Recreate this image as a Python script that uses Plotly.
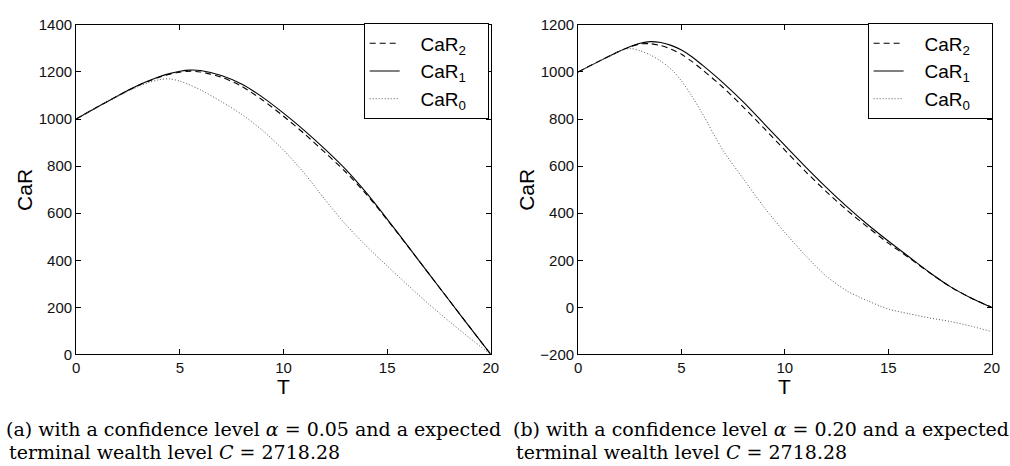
import plotly.graph_objects as go

# ---- data ----
T = [0, 1, 2, 2.5, 3, 3.5, 4, 4.5, 5, 5.5, 6, 7, 8, 9, 10, 11, 12, 13, 14, 15, 16, 17, 18, 19, 20]

# panel (a): alpha = 0.05
car2_a = [1000, 1050, 1098, 1121, 1143, 1161, 1178, 1190, 1199, 1203, 1200, 1178, 1138, 1080, 1012, 938, 858, 775, 680, 572, 459, 344, 229, 114, 0]
car1_a = [1000, 1050, 1098, 1122, 1144, 1163, 1180, 1193, 1203, 1208, 1206, 1185, 1148, 1092, 1025, 952, 872, 786, 686, 575, 460, 344, 229, 114, 0]
car0_a = [1000, 1050, 1097, 1118, 1138, 1155, 1167, 1171, 1161, 1144, 1124, 1074, 1019, 951, 868, 770, 658, 552, 460, 376, 294, 214, 140, 68, 0]

# panel (b): alpha = 0.20
car2_b = [1000, 1045, 1088, 1106, 1119, 1120, 1112, 1097, 1075, 1045, 1010, 935, 850, 760, 668, 577, 492, 413, 341, 273, 211, 147, 88, 40, 0]
car1_b = [1000, 1045, 1088, 1107, 1122, 1129, 1125, 1113, 1093, 1065, 1030, 955, 872, 780, 688, 597, 510, 428, 352, 282, 215, 148, 88, 40, 0]
car0_b = [1000, 1045, 1088, 1100, 1090, 1072, 1046, 1012, 962, 898, 825, 668, 545, 425, 318, 220, 133, 70, 28, -7, -27, -45, -60, -80, -103]

x_ticks = [0, 5, 10, 15, 20]
y_ticks_a = [0, 200, 400, 600, 800, 1000, 1200, 1400]
y_ticks_b = [-200, 0, 200, 400, 600, 800, 1000, 1200]

NB = "\u00a0\u00a0\u00a0"
names = [NB + "CaR<sub>2</sub>" + NB, NB + "CaR<sub>1</sub>" + NB, NB + "CaR<sub>0</sub>" + NB]

W, H = 1010, 466
SANS = "Liberation Sans, Arial, sans-serif"
SERIF = "DejaVu Serif, serif"

styles = [
    dict(color="black", width=1.1, dash="6px,4px"),
    dict(color="black", width=1.1),
    dict(color="#555555", width=1, dash="1px,2px"),
]

fig = go.Figure()
for series, xa, ya, lg in [((car2_a, car1_a, car0_a), "x", "y", "legend"),
                           ((car2_b, car1_b, car0_b), "x2", "y2", "legend2")]:
    for i, vals in enumerate(series):
        fig.add_trace(go.Scatter(
            x=T, y=vals, mode="lines", name=names[i], line=styles[i],
            line_shape="spline", line_smoothing=0.8, xaxis=xa, yaxis=ya, legend=lg,
            legendgroup=f"{lg}_{i}",
        ))

ydom = [1 - 358.5 / H, 1 - 16.5 / H]
axis_common = dict(showline=True, linecolor="black", linewidth=1, mirror="ticks",
                   ticks="inside", ticklen=5, tickcolor="black", showgrid=False,
                   zeroline=False, tickfont=dict(family=SANS, size=15, color="#111"))

legend_common = dict(y=1 - 15 / H, xanchor="left", yanchor="top",
                     bordercolor="black", borderwidth=1, bgcolor="white",
                     font=dict(family=SANS, size=19, color="black"), tracegroupgap=0)

fig.update_layout(
    width=W, height=H, margin=dict(l=0, r=0, t=0, b=0),
    paper_bgcolor="white", plot_bgcolor="white",
    xaxis=dict(domain=[73 / W, 492.7 / W], anchor="y", range=[0, 20], tickvals=x_ticks, **axis_common),
    yaxis=dict(domain=ydom, anchor="x", range=[0, 1400], tickvals=y_ticks_a, **axis_common),
    xaxis2=dict(domain=[581 / W, 999.5 / W], anchor="y2", range=[0, 20], tickvals=x_ticks, **axis_common),
    yaxis2=dict(domain=ydom, anchor="x2", range=[-200, 1200], tickvals=y_ticks_b, **axis_common),
    legend=dict(x=364 / W, **legend_common),
    legend2=dict(x=874 / W, **legend_common),
    showlegend=True,
)

ann = []
for xc in (20, 528):
    ann.append(dict(text="CaR", x=xc / W, y=1 - 188 / H, xref="paper", yref="paper",
                    showarrow=False, textangle=-90, xanchor="center", yanchor="middle",
                    font=dict(family=SANS, size=21, color="black")))
for xc in (283, 790):
    ann.append(dict(text="T", x=xc / W, y=1 - 392 / H, xref="paper", yref="paper",
                    showarrow=False, xanchor="center", yanchor="middle",
                    font=dict(family=SANS, size=21, color="black")))
captions = [
    (0, "(a) with a confidence level <i>α</i> = 0.05 and a expected"),
    (513, "(b) with a confidence level <i>α</i> = 0.20 and a expected"),
]
for xl, txt in captions:
    ann.append(dict(text=txt, x=xl / W, y=1 - 436 / H, xref="paper", yref="paper",
                    showarrow=False, xanchor="left", yanchor="middle",
                    font=dict(family=SERIF, size=19, color="black")))
    ann.append(dict(text="terminal wealth level <i>C</i> = 2718.28", x=(xl + 3) / W, y=1 - 460 / H,
                    xref="paper", yref="paper", showarrow=False, xanchor="left", yanchor="middle",
                    font=dict(family=SERIF, size=19, color="black")))
fig.update_layout(annotations=ann)

fig.write_html("out.html")
